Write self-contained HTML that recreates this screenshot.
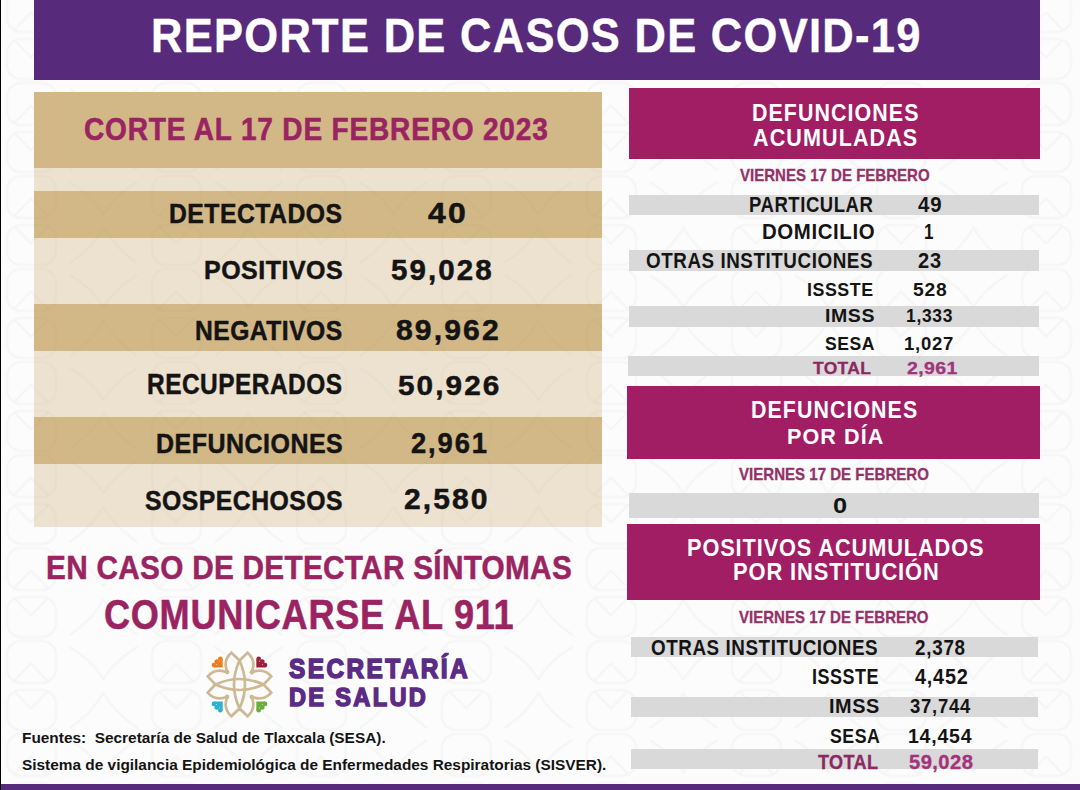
<!DOCTYPE html>
<html><head><meta charset="utf-8"><style>
html,body{margin:0;padding:0;}
body{width:1080px;height:790px;position:relative;overflow:hidden;background:#fdfcfc;font-family:'Liberation Sans', sans-serif;}
.b{position:absolute;}
.t{position:absolute;white-space:pre;transform-origin:0 0;}
</style></head><body>
<svg style="position:absolute;left:0;top:0" width="1080" height="790"><defs><pattern id="pt" x="103.5" y="81.5" width="145" height="93" patternUnits="userSpaceOnUse"><g fill="none" stroke="#f6f5f5" stroke-width="2.2" stroke-linecap="round" stroke-linejoin="round"><rect x="48.5" y="1.5" width="49" height="42" rx="14"/><rect x="48.5" y="50.5" width="49" height="40" rx="14"/><path d="M56 41 L72.5 24 L89 41 M56 52 L72.5 69 L89 52"/><path d="M-33 8 Q-10 22 0 40 Q10 22 33 8 M-33 88 Q-10 72 0 53 Q10 72 33 88 M112 8 Q135 22 145 40 Q155 22 178 8 M112 88 Q135 72 145 53 Q155 72 178 88"/></g></pattern></defs><rect width="1080" height="790" fill="url(#pt)"/></svg>

<svg style="position:absolute;left:0;top:0" width="1080" height="790" viewBox="0 0 1080 790"><g fill="none" stroke="#cdb994" stroke-width="2.7" stroke-linecap="round"><path d="M227.30 672.10 Q222.50 660.50 231.40 652.70 Q236.00 657.00 239.50 660.50 Q243.00 657.00 247.60 652.70 Q256.50 660.50 251.70 672.10"/><path d="M251.90 672.30 Q263.50 667.50 271.30 676.40 Q267.00 681.00 263.50 684.50 Q267.00 688.00 271.30 692.60 Q263.50 701.50 251.90 696.70"/><path d="M251.70 696.90 Q256.50 708.50 247.60 716.30 Q243.00 712.00 239.50 708.50 Q236.00 712.00 231.40 716.30 Q222.50 708.50 227.30 696.90"/><path d="M227.10 696.70 Q215.50 701.50 207.70 692.60 Q212.00 688.00 215.50 684.50 Q212.00 681.00 207.70 676.40 Q215.50 667.50 227.10 672.30"/><path d="M239.50 660.50 Q228.50 684.50 239.50 708.50 Q250.50 684.50 239.50 660.50"/><path d="M263.50 684.50 Q239.50 673.50 215.50 684.50 Q239.50 695.50 263.50 684.50"/></g><g fill="#cdb994"><circle cx="227.30" cy="672.10" r="2.2"/><circle cx="251.90" cy="672.30" r="2.2"/><circle cx="251.70" cy="696.90" r="2.2"/><circle cx="227.10" cy="696.70" r="2.2"/></g><g transform="translate(222.20 667.00) rotate(0)" fill="#ee7d1c"><path d="M0.5 0.5 L0.5 -8.5 L-8.5 0.5 Z"/><circle cx="-1.9" cy="-8.3" r="2.3"/><circle cx="-5.3" cy="-5.3" r="2.5"/><circle cx="-8.3" cy="-1.9" r="2.3"/></g><g transform="translate(256.80 667.00) rotate(90)" fill="#9c1f3c"><path d="M0.5 0.5 L0.5 -8.5 L-8.5 0.5 Z"/><circle cx="-1.9" cy="-8.3" r="2.3"/><circle cx="-5.3" cy="-5.3" r="2.5"/><circle cx="-8.3" cy="-1.9" r="2.3"/></g><g transform="translate(256.80 702.00) rotate(180)" fill="#6cae3c"><path d="M0.5 0.5 L0.5 -8.5 L-8.5 0.5 Z"/><circle cx="-1.9" cy="-8.3" r="2.3"/><circle cx="-5.3" cy="-5.3" r="2.5"/><circle cx="-8.3" cy="-1.9" r="2.3"/></g><g transform="translate(222.20 702.00) rotate(270)" fill="#2cb2cc"><path d="M0.5 0.5 L0.5 -8.5 L-8.5 0.5 Z"/><circle cx="-1.9" cy="-8.3" r="2.3"/><circle cx="-5.3" cy="-5.3" r="2.5"/><circle cx="-8.3" cy="-1.9" r="2.3"/></g></svg>
<div class="b" style="left:34px;top:0px;width:1006px;height:80px;background:#572a7c"></div>
<div class="b" style="left:34px;top:92px;width:568px;height:76px;background:#d2b887"></div>
<div class="b" style="left:34px;top:168px;width:568px;height:23px;background:#ece2cf"></div>
<div class="b" style="left:34px;top:191px;width:568px;height:47px;background:#d2b887"></div>
<div class="b" style="left:34px;top:238px;width:568px;height:66px;background:#ece2cf"></div>
<div class="b" style="left:34px;top:304px;width:568px;height:47px;background:#d2b887"></div>
<div class="b" style="left:34px;top:351px;width:568px;height:66px;background:#ece2cf"></div>
<div class="b" style="left:34px;top:417px;width:568px;height:47px;background:#d2b887"></div>
<div class="b" style="left:34px;top:464px;width:568px;height:63px;background:#ece2cf"></div>
<div class="b" style="left:629px;top:88px;width:411px;height:71px;background:#a11d64"></div>
<div class="b" style="left:629px;top:195px;width:410px;height:20px;background:#d9d9d9"></div>
<div class="b" style="left:629px;top:250px;width:410px;height:21px;background:#d9d9d9"></div>
<div class="b" style="left:629px;top:306px;width:410px;height:21px;background:#d9d9d9"></div>
<div class="b" style="left:628px;top:356px;width:411px;height:20px;background:#d9d9d9"></div>
<div class="b" style="left:627px;top:386px;width:413px;height:73px;background:#a11d64"></div>
<div class="b" style="left:629px;top:493px;width:410px;height:25px;background:#d9d9d9"></div>
<div class="b" style="left:627px;top:524px;width:413px;height:76px;background:#a11d64"></div>
<div class="b" style="left:631px;top:637px;width:407px;height:20px;background:#d9d9d9"></div>
<div class="b" style="left:631px;top:697px;width:407px;height:20px;background:#d9d9d9"></div>
<div class="b" style="left:631px;top:749px;width:407px;height:20px;background:#d9d9d9"></div>
<div class="b" style="left:0px;top:784px;width:1080px;height:6px;background:#572a7c"></div>
<div class="b" style="left:0px;top:0px;width:1px;height:790px;background:#000"></div>
<svg style="position:absolute;left:0;top:0" width="1080" height="790"><clipPath id="cl"><rect x="34" y="168" width="568" height="359"/></clipPath><defs><pattern id="pt2" x="103.5" y="81.5" width="145" height="93" patternUnits="userSpaceOnUse"><g fill="none" stroke="rgba(110,80,30,0.03)" stroke-width="2.2" stroke-linecap="round" stroke-linejoin="round"><rect x="48.5" y="1.5" width="49" height="42" rx="14"/><rect x="48.5" y="50.5" width="49" height="40" rx="14"/><path d="M56 41 L72.5 24 L89 41 M56 52 L72.5 69 L89 52"/><path d="M-33 8 Q-10 22 0 40 Q10 22 33 8 M-33 88 Q-10 72 0 53 Q10 72 33 88 M112 8 Q135 22 145 40 Q155 22 178 8 M112 88 Q135 72 145 53 Q155 72 178 88"/></g></pattern></defs><rect width="1080" height="790" fill="url(#pt2)" clip-path="url(#cl)"/></svg>

<div class="t" style="left:151.47px;top:11.88px;font-size:47.25px;line-height:47.25px;color:#ffffff;font-weight:bold;letter-spacing:1.417px;-webkit-text-stroke:0.40px #ffffff;transform:scaleX(0.9200)">REPORTE DE CASOS DE COVID-19</div>
<div class="t" style="left:84.39px;top:114.40px;font-size:31.59px;line-height:31.59px;color:#9a2462;font-weight:bold;letter-spacing:0.948px;-webkit-text-stroke:0.60px #9a2462;transform:scaleX(0.8867)">CORTE AL 17 DE FEBRERO 2023</div>
<div class="t" style="left:169.38px;top:199.85px;font-size:27.10px;line-height:27.10px;color:#141414;font-weight:bold;letter-spacing:0.542px;-webkit-text-stroke:0.50px #141414;transform:scaleX(0.9128)">DETECTADOS</div>
<div class="t" style="left:428.28px;top:198.56px;font-size:28.99px;line-height:28.99px;color:#141414;font-weight:bold;letter-spacing:2.029px;-webkit-text-stroke:0.50px #141414;transform:scaleX(1.1014)">40</div>
<div class="t" style="left:203.67px;top:257.34px;font-size:26.52px;line-height:26.52px;color:#141414;font-weight:bold;letter-spacing:0.530px;-webkit-text-stroke:0.50px #141414;transform:scaleX(0.9426)">POSITIVOS</div>
<div class="t" style="left:391.49px;top:254.69px;font-size:29.42px;line-height:29.42px;color:#141414;font-weight:bold;letter-spacing:2.059px;-webkit-text-stroke:0.50px #141414;transform:scaleX(1.0041)">59,028</div>
<div class="t" style="left:195.19px;top:316.85px;font-size:27.10px;line-height:27.10px;color:#141414;font-weight:bold;letter-spacing:0.542px;-webkit-text-stroke:0.50px #141414;transform:scaleX(0.9092)">NEGATIVOS</div>
<div class="t" style="left:395.62px;top:315.96px;font-size:28.99px;line-height:28.99px;color:#141414;font-weight:bold;letter-spacing:2.029px;-webkit-text-stroke:0.50px #141414;transform:scaleX(1.0392)">89,962</div>
<div class="t" style="left:147.28px;top:370.38px;font-size:28.84px;line-height:28.84px;color:#141414;font-weight:bold;letter-spacing:0.577px;-webkit-text-stroke:0.50px #141414;transform:scaleX(0.8481)">RECUPERADOS</div>
<div class="t" style="left:397.80px;top:370.72px;font-size:28.55px;line-height:28.55px;color:#141414;font-weight:bold;letter-spacing:1.999px;-webkit-text-stroke:0.50px #141414;transform:scaleX(1.0418)">50,926</div>
<div class="t" style="left:155.67px;top:429.98px;font-size:27.54px;line-height:27.54px;color:#141414;font-weight:bold;letter-spacing:0.551px;-webkit-text-stroke:0.50px #141414;transform:scaleX(0.9070)">DEFUNCIONES</div>
<div class="t" style="left:411.38px;top:428.56px;font-size:28.99px;line-height:28.99px;color:#141414;font-weight:bold;letter-spacing:2.029px;-webkit-text-stroke:0.50px #141414;transform:scaleX(0.9431)">2,961</div>
<div class="t" style="left:144.84px;top:486.68px;font-size:27.54px;line-height:27.54px;color:#141414;font-weight:bold;letter-spacing:0.551px;-webkit-text-stroke:0.50px #141414;transform:scaleX(0.8992)">SOSPECHOSOS</div>
<div class="t" style="left:404.02px;top:485.36px;font-size:28.99px;line-height:28.99px;color:#141414;font-weight:bold;letter-spacing:2.029px;-webkit-text-stroke:0.50px #141414;transform:scaleX(1.0358)">2,580</div>
<div class="t" style="left:45.57px;top:552.37px;font-size:32.75px;line-height:32.75px;color:#9a2462;font-weight:bold;letter-spacing:0.328px;-webkit-text-stroke:0.50px #9a2462;transform:scaleX(0.9080)">EN CASO DE DETECTAR SÍNTOMAS</div>
<div class="t" style="left:104.08px;top:593.35px;font-size:42.61px;line-height:42.61px;color:#9a2462;font-weight:bold;letter-spacing:0.852px;-webkit-text-stroke:0.50px #9a2462;transform:scaleX(0.8476)">COMUNICARSE AL 911</div>
<div class="t" style="left:289.23px;top:655.23px;font-size:27.54px;line-height:27.54px;color:#5b2b86;font-weight:bold;letter-spacing:2.754px;-webkit-text-stroke:1.60px #5b2b86;transform:scaleX(0.8850)">SECRETARÍA</div>
<div class="t" style="left:289.23px;top:683.67px;font-size:26.67px;line-height:26.67px;color:#5b2b86;font-weight:bold;letter-spacing:2.667px;-webkit-text-stroke:1.60px #5b2b86;transform:scaleX(0.8832)">DE SALUD</div>
<div class="t" style="left:22.04px;top:730.10px;font-size:15.51px;line-height:15.51px;color:#141414;font-weight:bold;letter-spacing:0.000px;transform:scaleX(0.9934)">Fuentes:  Secretaría de Salud de Tlaxcala (SESA).</div>
<div class="t" style="left:21.76px;top:757.26px;font-size:15.07px;line-height:15.07px;color:#141414;font-weight:bold;letter-spacing:0.000px;transform:scaleX(1.0221)">Sistema de vigilancia Epidemiológica de Enfermedades Respiratorias (SISVER).</div>
<div class="t" style="left:751.66px;top:100.78px;font-size:24.64px;line-height:24.64px;color:#ffffff;font-weight:bold;letter-spacing:1.232px;transform:scaleX(0.8688)">DEFUNCIONES</div>
<div class="t" style="left:752.96px;top:126.64px;font-size:23.62px;line-height:23.62px;color:#ffffff;font-weight:bold;letter-spacing:1.181px;transform:scaleX(0.9132)">ACUMULADAS</div>
<div class="t" style="left:739.83px;top:166.90px;font-size:17.10px;line-height:17.10px;color:#933268;font-weight:bold;letter-spacing:0.000px;-webkit-text-stroke:0.30px #933268;transform:scaleX(0.8796)">VIERNES 17 DE FEBRERO</div>
<div class="t" style="left:748.84px;top:194.58px;font-size:21.45px;line-height:21.45px;color:#141414;font-weight:bold;letter-spacing:0.643px;transform:scaleX(0.8628)">PARTICULAR</div>
<div class="t" style="left:917.70px;top:194.58px;font-size:21.45px;line-height:21.45px;color:#141414;font-weight:bold;letter-spacing:0.858px;transform:scaleX(0.9511)">49</div>
<div class="t" style="left:761.52px;top:222.28px;font-size:21.45px;line-height:21.45px;color:#141414;font-weight:bold;letter-spacing:0.643px;transform:scaleX(0.9518)">DOMICILIO</div>
<div class="t" style="left:923.93px;top:222.28px;font-size:21.45px;line-height:21.45px;color:#141414;font-weight:bold;letter-spacing:0.858px;transform:scaleX(0.7957)">1</div>
<div class="t" style="left:646.41px;top:249.63px;font-size:21.74px;line-height:21.74px;color:#141414;font-weight:bold;letter-spacing:0.652px;transform:scaleX(0.8653)">OTRAS INSTITUCIONES</div>
<div class="t" style="left:918.07px;top:249.63px;font-size:21.74px;line-height:21.74px;color:#141414;font-weight:bold;letter-spacing:0.870px;transform:scaleX(0.9232)">23</div>
<div class="t" style="left:807.28px;top:279.83px;font-size:19.13px;line-height:19.13px;color:#141414;font-weight:bold;letter-spacing:0.574px;transform:scaleX(0.9334)">ISSSTE</div>
<div class="t" style="left:912.70px;top:279.83px;font-size:19.13px;line-height:19.13px;color:#141414;font-weight:bold;letter-spacing:0.765px;transform:scaleX(1.0100)">528</div>
<div class="t" style="left:824.78px;top:307.12px;font-size:18.55px;line-height:18.55px;color:#141414;font-weight:bold;letter-spacing:0.557px;transform:scaleX(1.0535)">IMSS</div>
<div class="t" style="left:905.91px;top:307.12px;font-size:18.55px;line-height:18.55px;color:#141414;font-weight:bold;letter-spacing:0.742px;transform:scaleX(0.9420)">1,333</div>
<div class="t" style="left:824.73px;top:335.40px;font-size:18.70px;line-height:18.70px;color:#141414;font-weight:bold;letter-spacing:0.561px;transform:scaleX(0.9394)">SESA</div>
<div class="t" style="left:904.44px;top:335.40px;font-size:18.70px;line-height:18.70px;color:#141414;font-weight:bold;letter-spacing:0.748px;transform:scaleX(0.9906)">1,027</div>
<div class="t" style="left:813.16px;top:360.43px;font-size:16.23px;line-height:16.23px;color:#8c2862;font-weight:bold;letter-spacing:0.325px;-webkit-text-stroke:0.30px #8c2862;transform:scaleX(1.0757)">TOTAL</div>
<div class="t" style="left:906.57px;top:360.43px;font-size:16.23px;line-height:16.23px;color:#a3337a;font-weight:bold;letter-spacing:0.325px;-webkit-text-stroke:0.30px #a3337a;transform:scaleX(1.2032)">2,961</div>
<div class="t" style="left:751.06px;top:399.01px;font-size:23.19px;line-height:23.19px;color:#ffffff;font-weight:bold;letter-spacing:1.159px;transform:scaleX(0.9214)">DEFUNCIONES</div>
<div class="t" style="left:786.65px;top:425.74px;font-size:22.32px;line-height:22.32px;color:#ffffff;font-weight:bold;letter-spacing:1.116px;transform:scaleX(0.9665)">POR DÍA</div>
<div class="t" style="left:739.44px;top:466.21px;font-size:16.38px;line-height:16.38px;color:#933268;font-weight:bold;letter-spacing:0.000px;-webkit-text-stroke:0.30px #933268;transform:scaleX(0.9204)">VIERNES 17 DE FEBRERO</div>
<div class="t" style="left:833.21px;top:494.52px;font-size:22.46px;line-height:22.46px;color:#141414;font-weight:bold;letter-spacing:0.449px;transform:scaleX(1.1304)">0</div>
<div class="t" style="left:686.94px;top:536.78px;font-size:23.33px;line-height:23.33px;color:#ffffff;font-weight:bold;letter-spacing:0.933px;transform:scaleX(0.9336)">POSITIVOS ACUMULADOS</div>
<div class="t" style="left:732.63px;top:559.73px;font-size:24.35px;line-height:24.35px;color:#ffffff;font-weight:bold;letter-spacing:0.974px;transform:scaleX(0.8999)">POR INSTITUCIÓN</div>
<div class="t" style="left:738.84px;top:608.51px;font-size:16.38px;line-height:16.38px;color:#933268;font-weight:bold;letter-spacing:0.000px;-webkit-text-stroke:0.30px #933268;transform:scaleX(0.9185)">VIERNES 17 DE FEBRERO</div>
<div class="t" style="left:651.11px;top:636.63px;font-size:21.74px;line-height:21.74px;color:#141414;font-weight:bold;letter-spacing:0.652px;transform:scaleX(0.8660)">OTRAS INSTITUCIONES</div>
<div class="t" style="left:915.41px;top:636.63px;font-size:21.74px;line-height:21.74px;color:#141414;font-weight:bold;letter-spacing:0.870px;transform:scaleX(0.8648)">2,378</div>
<div class="t" style="left:812.18px;top:665.93px;font-size:21.74px;line-height:21.74px;color:#141414;font-weight:bold;letter-spacing:0.652px;transform:scaleX(0.8265)">ISSSTE</div>
<div class="t" style="left:915.00px;top:665.93px;font-size:21.74px;line-height:21.74px;color:#141414;font-weight:bold;letter-spacing:0.870px;transform:scaleX(0.9121)">4,452</div>
<div class="t" style="left:829.46px;top:695.79px;font-size:20.72px;line-height:20.72px;color:#141414;font-weight:bold;letter-spacing:0.622px;transform:scaleX(0.9587)">IMSS</div>
<div class="t" style="left:910.41px;top:695.79px;font-size:20.72px;line-height:20.72px;color:#141414;font-weight:bold;letter-spacing:0.829px;transform:scaleX(0.8910)">37,744</div>
<div class="t" style="left:829.72px;top:726.16px;font-size:20.29px;line-height:20.29px;color:#141414;font-weight:bold;letter-spacing:0.609px;transform:scaleX(0.8745)">SESA</div>
<div class="t" style="left:908.08px;top:726.16px;font-size:20.29px;line-height:20.29px;color:#141414;font-weight:bold;letter-spacing:0.812px;transform:scaleX(0.9603)">14,454</div>
<div class="t" style="left:818.43px;top:752.01px;font-size:20.29px;line-height:20.29px;color:#8c2862;font-weight:bold;letter-spacing:0.406px;-webkit-text-stroke:0.30px #8c2862;transform:scaleX(0.8913)">TOTAL</div>
<div class="t" style="left:909.13px;top:752.01px;font-size:20.29px;line-height:20.29px;color:#a3337a;font-weight:bold;letter-spacing:0.406px;-webkit-text-stroke:0.30px #a3337a;transform:scaleX(0.9974)">59,028</div>
</body></html>
